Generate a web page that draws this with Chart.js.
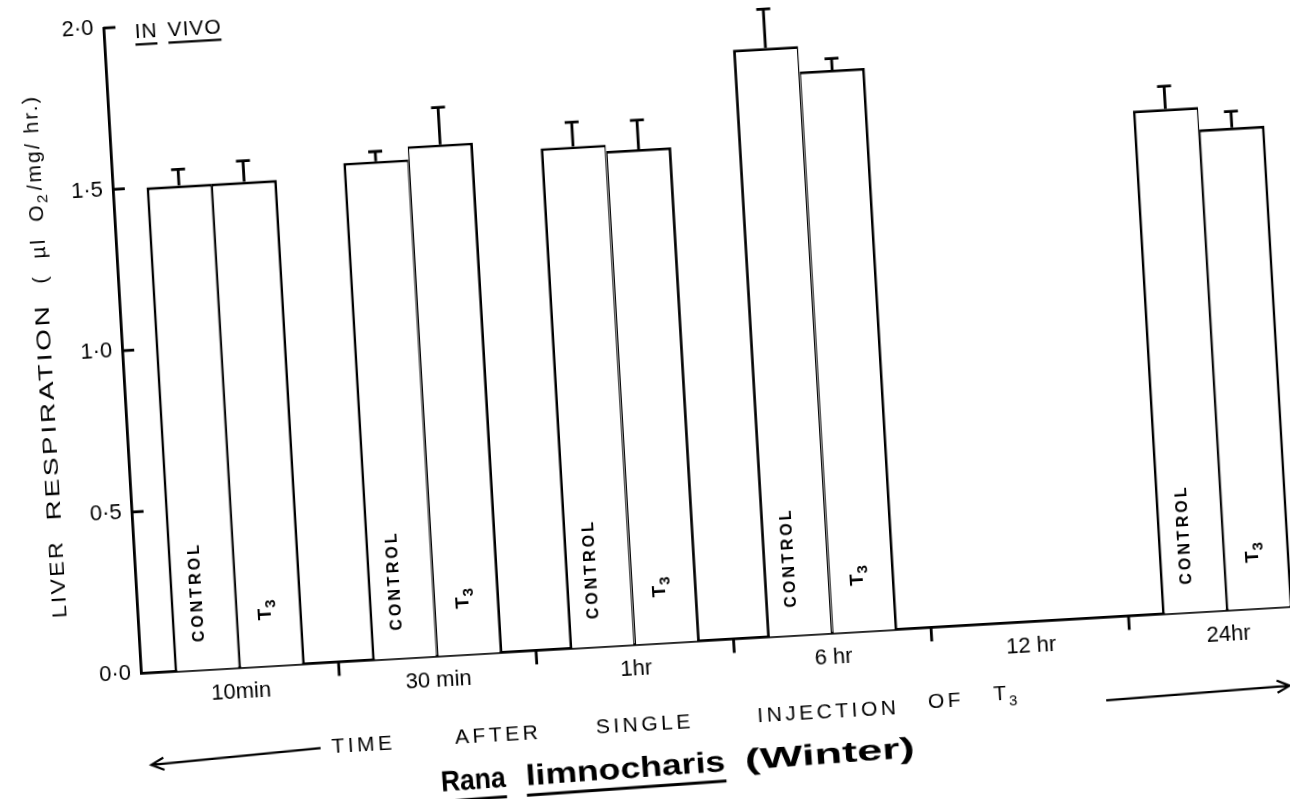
<!DOCTYPE html>
<html><head><meta charset="utf-8">
<script src="https://cdn.jsdelivr.net/npm/chart.js@4.4.1/dist/chart.umd.min.js"></script>
<style>
html,body{margin:0;padding:0;background:#fff;overflow:hidden;width:1290px;height:799px;}
#wrap{position:absolute;left:0;top:0;}
canvas{display:block;}
</style></head><body>
<div id="wrap"><canvas id="c" width="1340" height="880"></canvas></div>
<script>
// ---- data ----
const categories = ['10min', '30 min', '1hr', '6 hr', '12 hr', '24hr'];
const controlValues = [1.50, 1.54, 1.55, 1.82, null, 1.56];
const controlErrors = [0.05, 0.03, 0.075, 0.12, null, 0.07];
const t3Values = [1.50, 1.58, 1.53, 1.74, null, 1.49];
const t3Errors = [0.065, 0.115, 0.09, 0.035, null, 0.05];
const yTickValues = [0, 0.5, 1.0, 1.5, 2.0];
const seriesNames = ['CONTROL', 'T3'];

// ---- layout ----
const ORIGIN_X = 141, ORIGIN_Y = 673, TILT_DEG = 3.33;
const FONT = '"Liberation Sans", Arial, sans-serif';
const LW = 2.8;

function fitText(ctx, text, x, y, targetW) {
  const w = ctx.measureText(text).width;
  ctx.save();
  ctx.translate(x, y);
  ctx.scale(targetW / w, 1);
  ctx.textAlign = 'left';
  ctx.fillText(text, 0, 0);
  ctx.restore();
}

const deco = {
  id: 'deco',
  afterDatasetsDraw(chart) {
    const ctx = chart.ctx, ca = chart.chartArea, xs = chart.scales.x, ys = chart.scales.y;
    ctx.save();
    ctx.strokeStyle = '#000'; ctx.fillStyle = '#000'; ctx.lineWidth = LW;
    // error bars + in-bar labels
    const errs = [controlErrors, t3Errors];
    chart.data.datasets.forEach((ds, di) => {
      const meta = chart.getDatasetMeta(di);
      meta.data.forEach((el, i) => {
        const v = ds.data[i];
        if (v == null) return;
        const top = ys.getPixelForValue(v + errs[di][i]);
        ctx.lineWidth = LW;
        ctx.beginPath();
        ctx.moveTo(el.x, el.y); ctx.lineTo(el.x, top);
        ctx.moveTo(el.x - 7, top); ctx.lineTo(el.x + 7, top);
        ctx.stroke();
        ctx.save();
        if (di === 0) {
          ctx.translate(el.x - 6, ca.bottom - 78);
          ctx.rotate(-Math.PI / 2);
          ctx.font = 'bold 16px ' + FONT;
          ctx.letterSpacing = '3px';
          ctx.textAlign = 'center'; ctx.textBaseline = 'middle';
          ctx.fillText(seriesNames[0], 0, 0);
        } else {
          ctx.translate(el.x - 4, ca.bottom - 57);
          ctx.rotate(-Math.PI / 2);
          ctx.textBaseline = 'middle'; ctx.textAlign = 'left';
          ctx.font = 'bold 19px ' + FONT;
          ctx.fillText('T', -11, 0);
          ctx.font = 'bold 15px ' + FONT;
          ctx.fillText(seriesNames[1].slice(1), 1, 6);
        }
        ctx.restore();
      });
    });
    // inward y ticks
    yTickValues.forEach(v => {
      if (v === 0) return;
      const y = ys.getPixelForValue(v);
      ctx.beginPath(); ctx.moveTo(ca.left, y); ctx.lineTo(ca.left + 12, y); ctx.stroke();
    });
    // x ticks between categories
    for (let k = 1; k < categories.length; k++) {
      const x = (xs.getPixelForValue(k - 1) + xs.getPixelForValue(k)) / 2;
      ctx.beginPath(); ctx.moveTo(x, ca.bottom); ctx.lineTo(x, ca.bottom + 14); ctx.stroke();
    }
    // IN VIVO
    ctx.font = '21px ' + FONT;
    ctx.letterSpacing = '1px';
    ctx.textBaseline = 'middle'; ctx.textAlign = 'left';
    const ivx = ca.left + 31, ivy = ca.bottom - 640;
    const wIN = ctx.measureText('IN').width;
    const wVIVO = ctx.measureText('VIVO').width;
    const gap = 10;
    ctx.fillText('IN', ivx, ivy);
    ctx.fillText('VIVO', ivx + wIN + gap, ivy);
    ctx.lineWidth = 2.2;
    ctx.beginPath();
    ctx.moveTo(ivx, ivy + 12); ctx.lineTo(ivx + wIN - 1, ivy + 12);
    ctx.moveTo(ivx + wIN + gap, ivy + 12); ctx.lineTo(ivx + wIN + gap + wVIVO - 1, ivy + 12);
    ctx.stroke();
    ctx.letterSpacing = '0px';

    // y axis title (rotated)
    ctx.save();
    ctx.translate(ca.left - 77, ca.bottom);
    ctx.rotate(-Math.PI / 2);
    ctx.textBaseline = 'middle';
    ctx.font = '20px ' + FONT;
    ctx.letterSpacing = '2px';
    fitText(ctx, 'LIVER', 60, 0, 78);
    fitText(ctx, 'RESPIRATION', 158, 0, 217);
    const p1 = '(  µl  O', p2 = '2', p3 = '/mg/ hr.)';
    const w1 = ctx.measureText(p1).width, w3 = ctx.measureText(p3).width;
    ctx.font = '15px ' + FONT;
    const w2 = ctx.measureText(p2).width;
    const k = 187 / (w1 + w2 + w3);
    ctx.save();
    ctx.translate(395, 0); ctx.scale(k, 1);
    ctx.font = '20px ' + FONT; ctx.textAlign = 'left';
    ctx.fillText(p1, 0, 0);
    ctx.font = '15px ' + FONT;
    ctx.fillText(p2, w1, 7);
    ctx.font = '20px ' + FONT;
    ctx.fillText(p3, w1 + w2 + 2, 0);
    ctx.restore();
    ctx.restore();

    // bottom caption line
    ctx.letterSpacing = '3.5px';
    ctx.font = '21px ' + FONT;
    ctx.textAlign = 'center'; ctx.textBaseline = 'middle';
    const words = [['TIME', 218, -85], ['AFTER', 353, -83], ['SINGLE', 500, -81], ['INJECTION', 684, -79], ['OF', 802, -75]];
    words.forEach(([t, xp, yp]) => ctx.fillText(t, ca.left + xp, ca.bottom - yp));
    ctx.fillText('T', ca.left + 858, ca.bottom + 71);
    ctx.font = '15px ' + FONT;
    ctx.fillText('3', ca.left + 871, ca.bottom + 78);
    ctx.letterSpacing = '0px';

    // arrows
    ctx.lineWidth = 2.2;
    function arrow(x1, y1, x2, y2) {
      const a = Math.atan2(y2 - y1, x2 - x1);
      ctx.beginPath();
      ctx.moveTo(x1, y1); ctx.lineTo(x2, y2);
      ctx.moveTo(x2 - 14 * Math.cos(a - 0.45), y2 - 14 * Math.sin(a - 0.45));
      ctx.lineTo(x2, y2);
      ctx.lineTo(x2 - 14 * Math.cos(a + 0.45), y2 - 14 * Math.sin(a + 0.45));
      ctx.stroke();
    }
    arrow(ca.left + 175, ca.bottom + 85, ca.left + 5, ca.bottom + 92);
    arrow(ca.left + 962, ca.bottom + 83, ca.left + 1146, ca.bottom + 79);

    // species caption
    ctx.save();
    ctx.translate(ca.left + 530, ca.bottom + 124);
    ctx.rotate(-0.014);
    ctx.font = 'bold 29px ' + FONT;
    ctx.textBaseline = 'middle';
    const sp = [['Rana', -237, 65, true], ['limnocharis', -152, 200, true], ['(Winter)', 68, 170, false]];
    ctx.lineWidth = 3;
    sp.forEach(([t, xo, w, ul]) => {
      fitText(ctx, t, xo, 0, w);
      if (ul) { ctx.beginPath(); ctx.moveTo(xo, 18); ctx.lineTo(xo + w, 18); ctx.stroke(); }
    });
    ctx.restore();

    ctx.restore();
  }
};

const chart = new Chart(document.getElementById('c'), {
  type: 'bar',
  data: {
    labels: categories,
    datasets: [
      { label: seriesNames[0], data: controlValues, backgroundColor: '#fff', borderColor: '#000',
        borderWidth: { left: LW, top: LW, right: LW / 2, bottom: 0 }, borderSkipped: false },
      { label: seriesNames[1], data: t3Values, backgroundColor: '#fff', borderColor: '#000',
        borderWidth: { left: LW / 2, top: LW, right: LW, bottom: 0 }, borderSkipped: false }
    ]
  },
  options: {
    responsive: false,
    animation: false,
    devicePixelRatio: 1,
    datasets: { bar: { categoryPercentage: 0.66, barPercentage: 1.0 } },
    layout: { padding: { left: 0, top: 40, right: 13, bottom: 0 } },
    plugins: { legend: { display: false }, tooltip: { enabled: false }, title: { display: false } },
    scales: {
      x: {
        offset: true,
        grid: { display: false, drawTicks: false },
        border: { display: true, color: '#000', width: LW },
        ticks: { color: '#000', font: { family: FONT, size: 22 }, padding: 11, maxRotation: 0, autoSkip: false },
        afterFit: s => { s.height = 880 - 40 - 646.4; }
      },
      y: {
        min: 0, max: 2.0,
        afterBuildTicks: s => { s.ticks = yTickValues.map(v => ({ value: v })); },
        grid: { display: false, drawTicks: false },
        border: { display: true, color: '#000', width: LW },
        ticks: { color: '#000', font: { family: FONT, size: 22 }, padding: 10,
                 callback: v => v.toFixed(1).replace('.', '·') },
        afterFit: s => { s.width = 140; }
      }
    }
  },
  plugins: [deco]
});
const ca = chart.chartArea;
const wrap = document.getElementById('wrap');
wrap.style.left = (ORIGIN_X - ca.left) + 'px';
wrap.style.top = (ORIGIN_Y - ca.bottom) + 'px';
wrap.style.transformOrigin = ca.left + 'px ' + ca.bottom + 'px';
wrap.style.transform = 'rotate(-' + TILT_DEG + 'deg)';
</script>
</body></html>
